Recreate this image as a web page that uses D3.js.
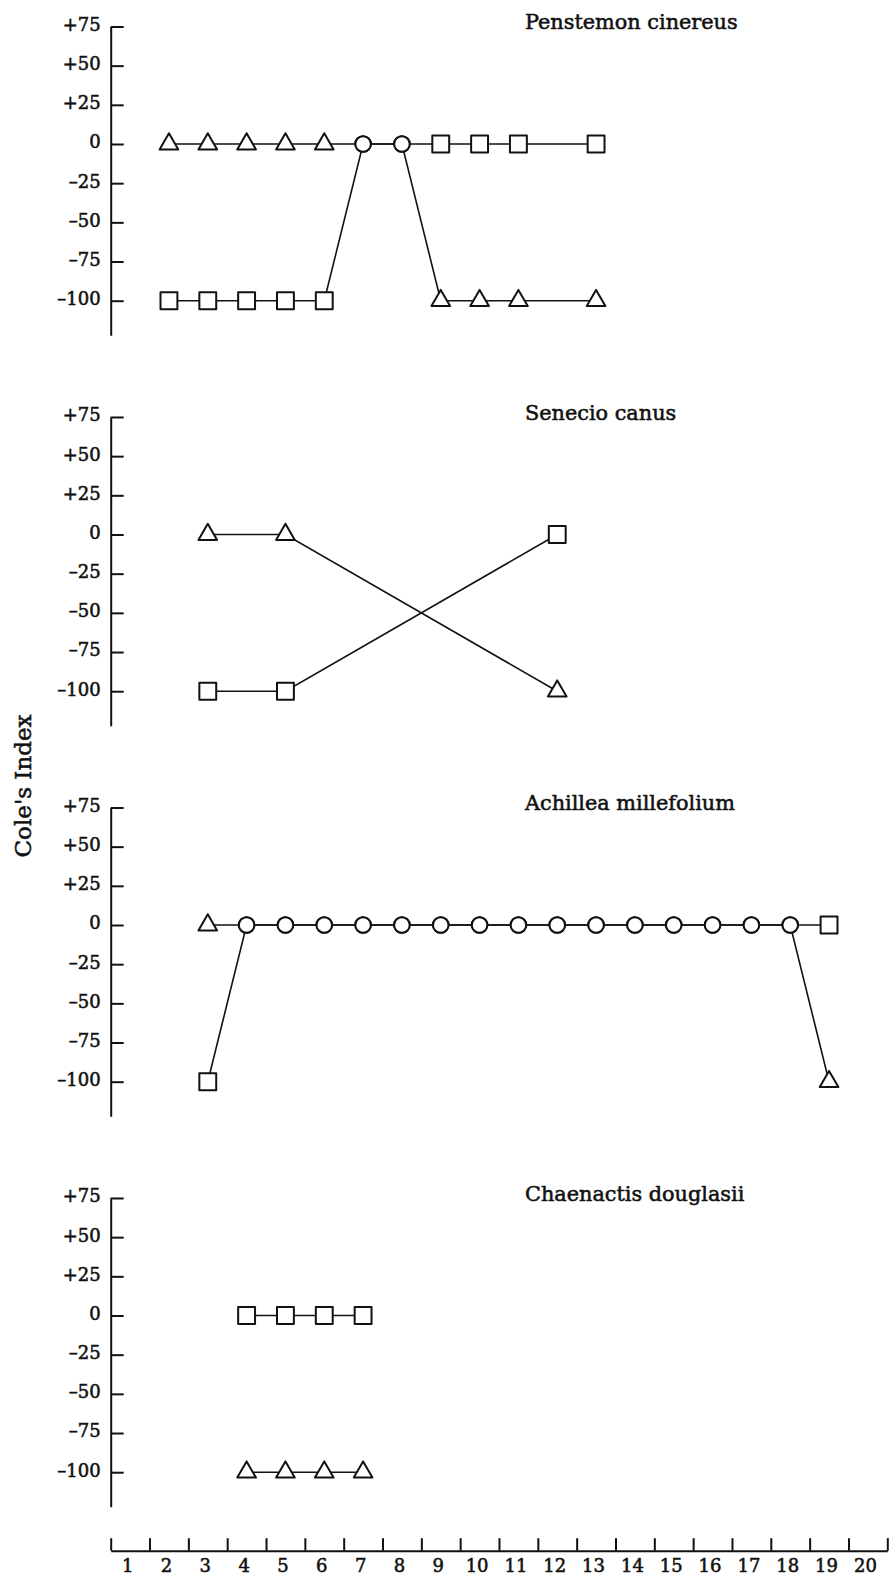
<!DOCTYPE html>
<html lang="en">
<head>
  <meta charset="UTF-8" />
  <title>Cole's Index by class</title>
  <script src="https://d3js.org/d3.v7.min.js"></script>
  <style>
    body {
      margin: 0;
      background: #fff;
    }
    svg {
      display: block;
      font-family: 'DejaVu Serif', serif;
    }
    svg text {
      fill: #111;
      stroke: #111;
      stroke-width: 0.55px;
    }
    .title {
      font-size: 20.8px;
    }
    .axis path, .axis line {
      stroke: #111;
      stroke-width: 2;
    }
  </style>
</head>
<body>
  <svg id="chart" width="889" height="1577"></svg>

  <script>
    // class numbers along the bottom
    const classes = d3.range(1, 21);
    const yTicks = [75, 50, 25, 0, -25, -50, -75, -100];
    const yTickLabels = ["+75", "+50", "+25", "0", "–25", "–50", "–75", "–100"];
    const yLabel = "Cole's Index";

    const species = ["Penstemon cinereus", "Senecio canus", "Achillea millefolium", "Chaenactis douglasii"];

    // each line: [class, Cole's index, marker]
    const penstemonUpper = [[2, 0, "tri"], [3, 0, "tri"], [4, 0, "tri"], [5, 0, "tri"], [6, 0, "tri"],
      [7, 0, "circ"], [8, 0, "circ"], [9, 0, "sq"], [10, 0, "sq"], [11, 0, "sq"], [13, 0, "sq"]];
    const penstemonLower = [[2, -100, "sq"], [3, -100, "sq"], [4, -100, "sq"], [5, -100, "sq"], [6, -100, "sq"],
      [7, 0, "circ"], [8, 0, "circ"], [9, -100, "tri"], [10, -100, "tri"], [11, -100, "tri"], [13, -100, "tri"]];

    const senecioA = [[3, 0, "tri"], [5, 0, "tri"], [12, -100, "tri"]];
    const senecioB = [[3, -100, "sq"], [5, -100, "sq"], [12, 0, "sq"]];

    const achilleaMid = [4, 5, 6, 7, 8, 9, 10, 11, 12, 13, 14, 15, 16, 17, 18].map(c => [c, 0, "circ"]);
    const achilleaA = [[3, 0, "tri"], ...achilleaMid, [19, 0, "sq"]];
    const achilleaB = [[3, -100, "sq"], ...achilleaMid, [19, -100, "tri"]];

    const chaenactisA = [[4, 0, "sq"], [5, 0, "sq"], [6, 0, "sq"], [7, 0, "sq"]];
    const chaenactisB = [[4, -100, "tri"], [5, -100, "tri"], [6, -100, "tri"], [7, -100, "tri"]];

    const panelLines = [
      [penstemonUpper, penstemonLower],
      [senecioA, senecioB],
      [achilleaA, achilleaB],
      [chaenactisA, chaenactisB]
    ];

    const svg = d3.select("#chart");
    const x = d3.scaleLinear().domain([0, 20]).range([110.7, 887.3]);
    const pxPerUnit = 1.567;
    const firstZero = 144, panelStep = 390.5;

    const shapes = {
      tri: d3.symbol().type(d3.symbolTriangle).size(151),
      sq: d3.symbol().type(d3.symbolSquare).size(285),
      circ: d3.symbol().type(d3.symbolCircle).size(190)
    };

    // d3 puts its own font on the axis group, so override it after the call
    const axisFont = a => a.attr("font-family", "'DejaVu Serif', serif").attr("font-size", 18);

    species.forEach((name, i) => {
      const zero = firstZero + i * panelStep;
      const y = d3.scaleLinear().domain([-122, 75])
        .range([zero + 122 * pxPerUnit, zero - 75 * pxPerUnit]);
      const g = svg.append("g");

      g.append("g")
        .attr("class", "axis")
        .attr("transform", `translate(${x(0)},0)`)
        .call(d3.axisLeft(y).tickValues(yTicks)
          .tickFormat((d, j) => yTickLabels[j])
          .tickSizeInner(-13).tickSizeOuter(0).tickPadding(10))
        .call(axisFont)
        .call(a => a.selectAll("text").attr("dy", "0.22em"));

      g.append("text")
        .attr("class", "title")
        .attr("x", 525)
        .attr("y", zero - 115)
        .text(name);

      const line = d3.line().x(d => x(d[0] - 0.5)).y(d => y(d[1]));
      panelLines[i].forEach(pts => {
        g.append("path")
          .datum(pts)
          .attr("d", line)
          .attr("fill", "none")
          .attr("stroke", "#111")
          .attr("stroke-width", 1.6);
      });
      panelLines[i].forEach(pts => {
        g.selectAll(null)
          .data(pts)
          .enter().append("path")
          .attr("transform", d => `translate(${x(d[0] - 0.5)},${y(d[1])})`)
          .attr("d", d => shapes[d[2]]())
          .attr("fill", "#fff")
          .attr("stroke", "#111")
          .attr("stroke-width", 2)
          .attr("stroke-linejoin", "round");
      });
    });

    // bottom class axis: ticks on the class boundaries, numbers in between
    const xAxisY = 1550.7;
    svg.append("g")
      .attr("class", "axis")
      .attr("transform", `translate(0,${xAxisY})`)
      .call(d3.axisBottom(x).tickValues(d3.range(0, 21)).tickFormat("")
        .tickSizeInner(-12.5).tickSizeOuter(0));
    svg.append("g")
      .attr("class", "axis")
      .attr("transform", `translate(0,${xAxisY})`)
      .call(d3.axisBottom(x).tickValues(classes.map(c => c - 0.5))
        .tickFormat(d => String(d + 0.5)).tickSize(0).tickPadding(9))
      .call(axisFont)
      .call(a => a.select(".domain").remove())
      .call(a => a.selectAll("text").attr("dx", "-3"));

    svg.append("text")
      .attr("transform", "translate(31,786) rotate(-90)")
      .attr("text-anchor", "middle")
      .attr("font-size", 23)
      .text(yLabel);
  </script>
</body>
</html>
